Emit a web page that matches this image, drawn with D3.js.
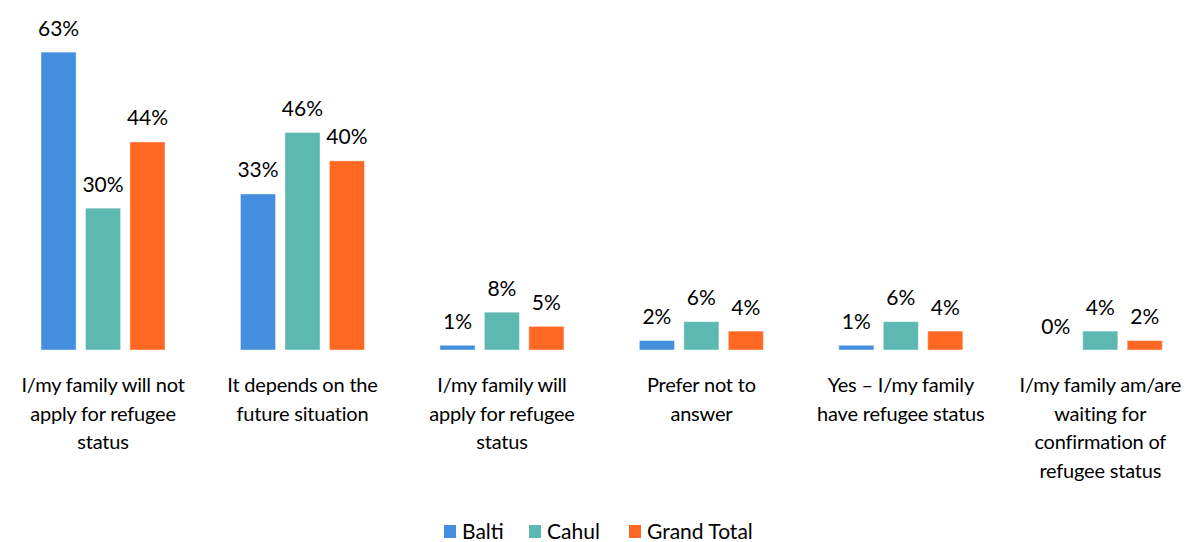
<!DOCTYPE html>
<html>
<head>
<meta charset="utf-8">
<script src="https://cdn.jsdelivr.net/npm/d3@7"></script>
<style>
  html, body { margin: 0; padding: 0; background: #fff; }
  svg { display: block; }
  text { font-family: "Gill Sans", "Gill Sans MT", Lato, "Open Sans", sans-serif; fill: #000; }
</style>
</head>
<body>
<svg id="chart" width="1190" height="542"></svg>
<script>
// Response categories (line breaks mark the wrapped axis labels)
const categories = [
  "I/my family will not\napply for refugee\nstatus",
  "It depends on the\nfuture situation",
  "I/my family will\napply for refugee\nstatus",
  "Prefer not to\nanswer",
  "Yes \u2013 I/my family\nhave refugee status",
  "I/my family am/are\nwaiting for\nconfirmation of\nrefugee status"
];
const seriesNames = ["Balti", "Cahul", "Grand Total"];
const balti = [63, 33, 1, 2, 1, 0];
const cahul = [30, 46, 8, 6, 6, 4];
const grandTotal = [44, 40, 5, 4, 4, 2];
const seriesColors = ["#448EDF", "#5DB8B2", "#FF6822"];

const seriesValues = [balti, cahul, grandTotal];
const rows = categories.map((c, i) => ({
  category: c,
  values: seriesNames.map((s, j) => ({ series: s, value: seriesValues[j][i], color: seriesColors[j] }))
}));

const svg = d3.select("#chart");
const baseline = 350;

const x0 = d3.scaleBand().domain(categories).range([3.3, 1200]).padding(0);
const x1 = d3.scaleBand().domain(seriesNames)
  .range([x0.bandwidth() * 0.189, x0.bandwidth() * 0.811]).paddingInner(0.21);
const y = d3.scaleLinear().domain([0, 70]).range([baseline, 19]);

const groups = svg.append("g").selectAll("g")
  .data(rows).join("g")
  .attr("transform", d => `translate(${x0(d.category)},0)`);

groups.selectAll("rect")
  .data(d => d.values).join("rect")
  .attr("x", d => x1(d.series))
  .attr("y", d => y(d.value))
  .attr("width", x1.bandwidth())
  .attr("height", d => baseline - y(d.value))
  .attr("fill", d => d.color)
  .attr("stroke", "#fff")
  .attr("stroke-opacity", 0.45)
  .attr("stroke-width", 1);

groups.selectAll("text.value")
  .data(d => d.values).join("text")
  .attr("class", "value")
  .attr("x", d => x1(d.series) + x1.bandwidth() / 2)
  .attr("y", d => y(d.value) - 16.5)
  .attr("text-anchor", "middle")
  .attr("font-size", 21)
  .text(d => d3.format(".0f")(d.value) + "%");

// Category axis labels, centred under each group
const xAxis = d3.axisBottom(x0).tickSize(0).tickFormat("");
const axisG = svg.append("g").attr("transform", `translate(0,${baseline})`).call(xAxis);
axisG.select(".domain").remove();
axisG.selectAll(".tick").each(function(d) {
  const t = d3.select(this).append("text")
    .attr("text-anchor", "middle")
    .attr("font-size", 20)
    .attr("letter-spacing", -0.2)
    .attr("y", 42);
  d.split("\n").forEach((line, i) => {
    t.append("tspan").attr("x", 0).attr("dy", i === 0 ? 0 : 28.5).text(line);
  });
});

// Legend
const legendX = [444, 529, 629];
const legend = svg.append("g").selectAll("g")
  .data(seriesNames).join("g")
  .attr("transform", (d, i) => `translate(${legendX[i]},525)`);
legend.append("rect")
  .attr("width", 12).attr("height", 13)
  .attr("fill", (d, i) => seriesColors[i]);
legend.append("text")
  .attr("x", 18).attr("y", 13.5)
  .attr("font-size", 21)
  .text(d => d);
</script>
</body>
</html>
